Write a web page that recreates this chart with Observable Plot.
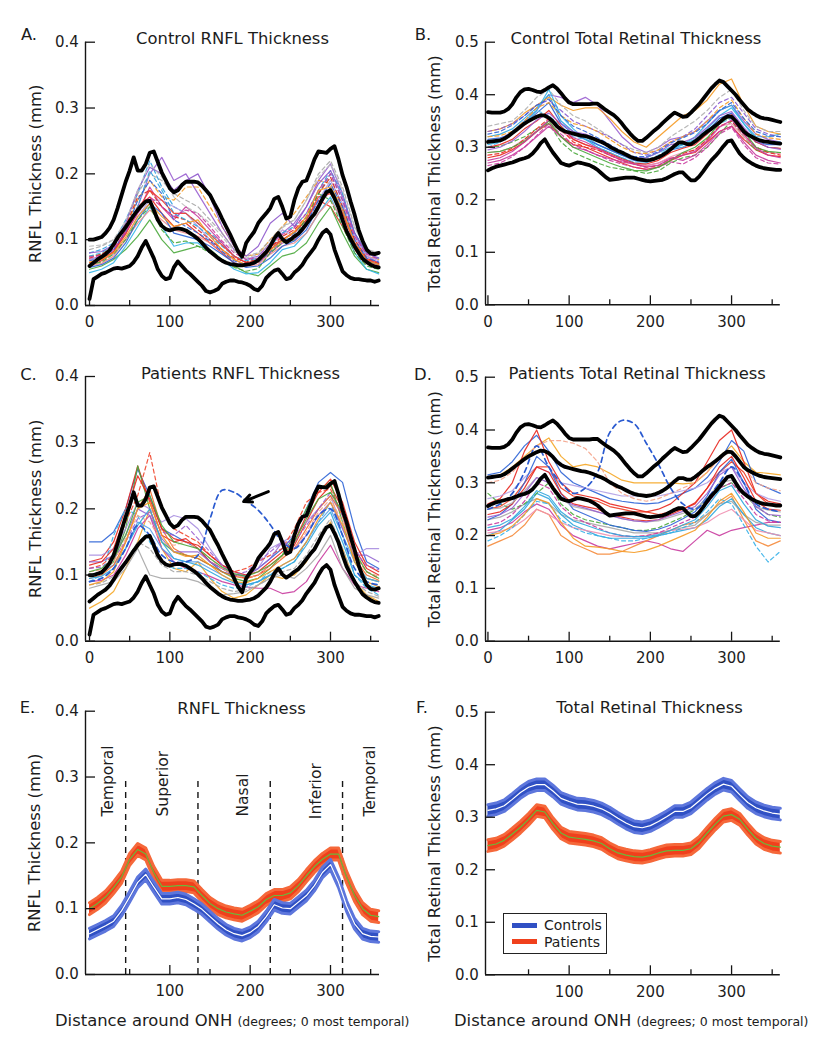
<!DOCTYPE html>
<html><head><meta charset="utf-8">
<script src="https://cdn.jsdelivr.net/npm/d3@7"></script>
<script src="https://cdn.jsdelivr.net/npm/@observablehq/plot@0.6"></script>
<style>
body{margin:0;background:#fff;}
#page{position:relative;width:829px;height:1050px;background:#fff;font-family:"DejaVu Sans",sans-serif;color:#1c1c1c;overflow:hidden}
.panel{position:absolute}
.xtitle{position:absolute;white-space:nowrap;font-size:16.4px;line-height:1}
.xtitle span{font-size:12.5px}
.legend{position:absolute;border:1.5px solid #222;background:#fff;box-sizing:border-box}
.legend .row{position:absolute;left:0;height:16px;display:flex;align-items:center;font-size:14px;white-space:nowrap}
.legend .sw{width:25px;height:5px;margin-left:8px;margin-right:7px}
</style></head><body><div id="page"></div>
<script>
// ---------------- x grids (degrees around ONH) ----------------
const deg5 = [0,5,10,15,20,25,30,35,40,45,50,55,60,65,70,75,80,85,90,95,100,105,110,115,120,125,130,135,140,145,150,155,160,165,170,175,180,185,190,195,200,205,210,215,220,225,230,235,240,245,250,255,260,265,270,275,280,285,290,295,300,305,310,315,320,325,330,335,340,345,350,355,360];
const deg10 = [0,10,20,30,40,50,60,70,80,90,100,110,120,130,140,150,160,170,180,190,200,210,220,230,240,250,260,270,280,290,300,310,320,330,340,350,360];
const deg15 = [0,15,30,45,60,75,90,105,120,135,150,165,180,195,210,225,240,255,270,285,300,315,330,345,360];

// ---------------- control envelopes (mean and 95% limits), 5-degree grid ----------------
const ctrlRnflUpper = [.100,.100,.102,.104,.110,.118,.130,.148,.168,.188,.205,.225,
 .205,.205,.215,.232,.234,.218,.202,.190,.178,.172,.175,.183,
 .188,.188,.188,.187,.182,.175,.168,.156,.145,.132,.120,.108,
 .095,.082,.074,.095,.104,.112,.125,.133,.140,.148,.162,.165,
 .150,.132,.135,.160,.178,.188,.190,.205,.222,.234,.233,.232,
 .238,.242,.222,.198,.180,.158,.138,.115,.098,.085,.079,.078,.080];
const ctrlRnflMean = [.060,.065,.070,.074,.078,.084,.093,.103,.111,.119,.128,.137,
 .145,.152,.158,.159,.145,.130,.121,.116,.114,.116,.117,.116,
 .114,.110,.106,.101,.095,.088,.082,.077,.072,.068,.065,.063,
 .062,.061,.061,.062,.063,.065,.069,.075,.081,.090,.102,.110,
 .101,.096,.100,.105,.109,.116,.124,.132,.139,.150,.162,.172,
 .175,.163,.149,.130,.113,.101,.090,.080,.071,.066,.062,.059,.058];
const ctrlRnflLower = [.010,.040,.044,.048,.050,.053,.056,.057,.056,.058,.060,.066,
 .075,.088,.098,.085,.072,.055,.045,.040,.042,.058,.067,.060,
 .053,.048,.042,.036,.030,.022,.020,.022,.025,.033,.036,.038,
 .038,.036,.035,.033,.030,.025,.023,.030,.042,.048,.053,.055,
 .048,.040,.042,.050,.055,.062,.072,.080,.088,.100,.110,.115,
 .108,.085,.068,.052,.046,.042,.040,.040,.039,.038,.038,.036,.038];
const ctrlTotalUpper = [.367,.366,.366,.366,.368,.373,.382,.395,.405,.410,.411,.409,
 .406,.405,.409,.414,.418,.412,.403,.393,.385,.382,.382,.382,
 .382,.382,.383,.383,.377,.371,.366,.361,.354,.345,.335,.326,
 .318,.312,.312,.318,.325,.332,.338,.346,.353,.360,.366,.362,
 .358,.359,.366,.374,.382,.392,.402,.412,.420,.427,.424,.416,
 .408,.400,.390,.381,.372,.366,.361,.357,.355,.354,.352,.350,.348];
const ctrlTotalMean = [.310,.311,.312,.313,.316,.321,.327,.333,.339,.345,.350,.354,
 .358,.361,.360,.356,.349,.340,.334,.330,.328,.326,.324,.322,
 .321,.319,.316,.313,.310,.306,.301,.297,.293,.290,.286,.282,
 .279,.277,.276,.275,.276,.278,.281,.285,.290,.296,.303,.309,
 .309,.306,.306,.311,.317,.324,.330,.335,.341,.347,.354,.359,
 .358,.350,.340,.330,.324,.320,.316,.313,.311,.310,.309,.308,.307];
const ctrlTotalLower = [.256,.260,.263,.265,.267,.269,.271,.274,.277,.279,.282,.288,
 .297,.308,.315,.302,.290,.280,.270,.267,.265,.268,.271,.270,
 .268,.266,.262,.257,.250,.243,.238,.239,.240,.241,.242,.242,
 .242,.240,.238,.236,.235,.236,.237,.238,.241,.245,.249,.252,
 .252,.244,.237,.237,.244,.254,.265,.275,.283,.292,.302,.311,
 .313,.300,.288,.280,.274,.269,.265,.262,.260,.259,.258,.257,.257];

// ---------------- individual eyes, 15-degree grid ----------------
const ctrlRnflSubjects = [
 [.070,.075,.085,.110,.150,.200,.225,.190,.200,.170,.140,.110,.085,.070,.075,.095,.110,.125,.150,.190,.215,.170,.110,.075,.065],
 [.060,.068,.080,.115,.150,.165,.140,.120,.125,.110,.095,.080,.065,.060,.068,.090,.100,.110,.130,.160,.150,.120,.085,.065,.060],
 [.080,.085,.095,.130,.170,.220,.180,.150,.140,.125,.110,.095,.075,.065,.070,.085,.100,.110,.130,.170,.200,.160,.110,.080,.070],
 [.055,.060,.070,.085,.105,.130,.100,.080,.085,.090,.085,.070,.060,.050,.045,.060,.075,.080,.095,.125,.150,.110,.075,.055,.050],
 [.065,.070,.082,.110,.140,.180,.150,.130,.150,.135,.115,.095,.075,.065,.065,.080,.095,.100,.120,.150,.175,.140,.095,.070,.060],
 [.075,.078,.090,.120,.160,.190,.165,.160,.180,.180,.150,.120,.090,.075,.078,.100,.120,.140,.165,.190,.185,.150,.100,.075,.070],
 [.085,.090,.100,.125,.170,.200,.190,.170,.160,.150,.130,.110,.085,.075,.080,.100,.120,.130,.160,.200,.220,.180,.120,.085,.080],
 [.050,.055,.065,.090,.120,.150,.120,.090,.095,.095,.080,.070,.055,.048,.050,.065,.085,.090,.110,.140,.165,.125,.080,.055,.048],
 [.070,.072,.078,.100,.135,.160,.160,.150,.140,.120,.100,.085,.070,.062,.068,.090,.115,.105,.125,.160,.190,.155,.105,.075,.068],
 [.060,.064,.075,.100,.125,.145,.130,.115,.110,.105,.095,.082,.070,.060,.062,.078,.090,.095,.110,.140,.160,.130,.090,.065,.058],
 [.072,.078,.088,.120,.165,.175,.150,.135,.130,.115,.100,.085,.072,.066,.070,.088,.105,.115,.135,.170,.195,.150,.100,.072,.064],
 [.058,.062,.072,.095,.130,.155,.140,.110,.105,.100,.090,.078,.065,.058,.060,.072,.090,.098,.115,.150,.180,.145,.095,.068,.062],
 [.075,.080,.092,.118,.150,.205,.175,.140,.130,.120,.105,.090,.075,.068,.072,.090,.110,.120,.140,.175,.205,.170,.110,.080,.072],
 [.065,.070,.082,.108,.145,.175,.160,.140,.140,.125,.108,.092,.075,.065,.068,.085,.100,.112,.130,.165,.170,.140,.095,.070,.064],
 [.068,.072,.085,.112,.160,.190,.170,.130,.120,.110,.098,.082,.068,.060,.065,.082,.098,.105,.125,.160,.185,.150,.100,.072,.066],
 [.080,.082,.092,.125,.175,.210,.200,.175,.190,.200,.165,.120,.090,.075,.090,.125,.140,.120,.150,.185,.205,.165,.110,.080,.072],
 [.062,.066,.078,.100,.130,.150,.115,.095,.098,.090,.080,.070,.058,.052,.056,.080,.095,.100,.135,.170,.160,.120,.080,.060,.055],
 [.074,.076,.086,.112,.140,.165,.150,.135,.145,.140,.120,.098,.080,.070,.072,.092,.108,.118,.140,.175,.200,.160,.105,.078,.070],
 [.066,.070,.080,.104,.135,.155,.135,.120,.125,.130,.105,.085,.070,.062,.066,.084,.098,.112,.135,.175,.180,.145,.095,.068,.062],
 [.090,.092,.100,.128,.175,.215,.195,.165,.150,.140,.125,.105,.082,.072,.078,.095,.118,.130,.160,.195,.215,.175,.118,.085,.080]
];
const ctrlRnflColors = ["#9a5fd0","#e8261e","#2b9fe0","#4aa83c","#c93b9e","#f59a23","#a6a6a6","#33b5e8","#b39be0","#f08c8c","#d9281e","#2e64d6","#2fa6dd","#ee3b2a","#2e64d6","#8e58cc","#4aa83c","#c93b9e","#f59a23","#bdbdbd"];
const ctrlRnflDashed = [0,0,1,0,0,1,1,0,0,0,1,0,1,0,1,0,1,1,0,1];

const ctrlTotalSubjects = [
 [.310,.315,.330,.350,.370,.400,.395,.385,.395,.380,.350,.320,.300,.290,.300,.315,.320,.330,.350,.370,.380,.350,.325,.315,.310],
 [.280,.285,.295,.310,.330,.345,.320,.305,.300,.290,.280,.270,.262,.258,.262,.275,.285,.290,.310,.330,.340,.315,.295,.285,.282],
 [.320,.325,.335,.355,.375,.400,.350,.330,.320,.305,.295,.285,.278,.280,.290,.300,.305,.320,.345,.370,.380,.345,.320,.320,.325],
 [.300,.302,.310,.320,.335,.345,.310,.290,.280,.270,.262,.258,.255,.250,.255,.270,.280,.285,.300,.325,.350,.320,.295,.290,.290],
 [.270,.275,.285,.300,.320,.340,.320,.300,.295,.285,.278,.272,.268,.265,.270,.280,.275,.285,.305,.330,.340,.310,.285,.275,.270],
 [.330,.335,.345,.365,.380,.395,.380,.370,.375,.375,.355,.330,.310,.300,.320,.340,.360,.370,.390,.420,.430,.380,.340,.330,.325],
 [.340,.345,.350,.370,.395,.410,.380,.360,.350,.335,.320,.305,.295,.290,.300,.320,.335,.350,.370,.395,.410,.370,.340,.330,.330],
 [.315,.318,.325,.345,.365,.385,.345,.325,.315,.305,.295,.285,.275,.272,.280,.295,.300,.310,.330,.355,.365,.335,.310,.305,.305],
 [.330,.335,.345,.360,.380,.390,.370,.350,.340,.330,.320,.305,.290,.285,.295,.310,.320,.335,.360,.385,.395,.365,.335,.325,.320],
 [.290,.292,.300,.315,.330,.350,.330,.315,.305,.295,.285,.275,.268,.265,.270,.282,.290,.295,.315,.340,.345,.320,.300,.290,.288],
 [.300,.310,.330,.350,.370,.360,.340,.320,.315,.300,.290,.280,.272,.275,.285,.300,.300,.310,.325,.345,.355,.330,.310,.300,.298],
 [.285,.288,.298,.315,.335,.355,.335,.310,.300,.295,.285,.275,.268,.262,.265,.278,.288,.295,.315,.340,.350,.325,.300,.290,.285],
 [.305,.310,.325,.345,.370,.410,.360,.335,.315,.300,.290,.280,.270,.270,.280,.295,.305,.315,.335,.360,.375,.345,.315,.310,.310],
 [.265,.270,.282,.300,.322,.345,.325,.305,.295,.285,.275,.268,.262,.258,.262,.272,.268,.280,.300,.325,.338,.305,.280,.270,.268],
 [.320,.322,.330,.350,.375,.385,.360,.345,.340,.330,.315,.300,.290,.288,.295,.310,.320,.330,.350,.375,.390,.355,.325,.318,.315],
 [.290,.292,.300,.312,.330,.350,.320,.300,.290,.280,.270,.262,.256,.255,.262,.275,.290,.300,.318,.345,.360,.330,.300,.292,.290],
 [.300,.305,.315,.335,.350,.370,.340,.315,.305,.298,.288,.278,.270,.268,.275,.290,.298,.305,.325,.350,.362,.335,.310,.300,.298],
 [.295,.300,.312,.330,.352,.365,.345,.330,.325,.315,.300,.288,.280,.280,.290,.305,.310,.318,.338,.360,.368,.338,.312,.300,.296],
 [.325,.330,.342,.360,.380,.392,.360,.340,.330,.318,.305,.292,.282,.282,.292,.308,.318,.328,.345,.370,.385,.355,.330,.322,.320],
 [.275,.280,.292,.310,.330,.352,.335,.318,.310,.298,.285,.276,.268,.262,.266,.278,.285,.292,.312,.338,.352,.325,.298,.285,.280]
];
const ctrlTotalColors = ["#9a5fd0","#e8261e","#2fa6dd","#4aa83c","#c93b9e","#f59a23","#b0b0b0","#2e64d6","#8a5bd0","#ef8fb0","#5bb8ea","#e8261e","#33b5e8","#c93b9e","#f59a23","#4aa83c","#e8261e","#9a5fd0","#2e64d6","#c93b9e"];
const ctrlTotalDashed = [0,0,0,1,0,0,1,0,1,0,1,1,0,1,1,0,0,0,1,0];

const patRnflSubjects = [
 [.150,.150,.165,.200,.260,.220,.170,.160,.150,.140,.120,.105,.100,.100,.110,.125,.140,.160,.200,.240,.255,.240,.170,.120,.110],
 [.120,.125,.150,.200,.265,.210,.160,.150,.155,.140,.120,.110,.100,.095,.100,.115,.130,.145,.180,.215,.235,.200,.140,.110,.100],
 [.100,.105,.120,.170,.265,.200,.150,.135,.130,.125,.115,.105,.095,.090,.095,.110,.130,.160,.200,.230,.240,.180,.120,.095,.090],
 [.050,.060,.075,.110,.150,.200,.140,.110,.105,.120,.095,.075,.065,.070,.085,.100,.095,.100,.120,.150,.180,.140,.090,.070,.060],
 [.090,.092,.100,.130,.170,.190,.140,.120,.110,.105,.098,.090,.085,.082,.080,.080,.072,.075,.090,.120,.145,.110,.085,.080,.075],
 [.080,.085,.090,.110,.140,.100,.095,.095,.095,.090,.080,.070,.072,.075,.085,.095,.100,.095,.110,.130,.160,.110,.080,.070,.065],
 [.130,.130,.140,.170,.210,.200,.180,.190,.185,.170,.140,.115,.105,.100,.110,.140,.150,.160,.180,.200,.220,.170,.130,.140,.140],
 [.090,.100,.160,.200,.190,.150,.120,.110,.110,.105,.095,.085,.080,.082,.090,.105,.110,.120,.150,.180,.210,.160,.100,.080,.070],
 [.110,.115,.130,.180,.220,.285,.200,.170,.160,.150,.130,.115,.105,.110,.120,.130,.140,.170,.210,.225,.230,.190,.130,.105,.095],
 [.100,.105,.115,.140,.180,.170,.140,.125,.120,.120,.110,.100,.090,.085,.090,.100,.115,.125,.150,.180,.200,.160,.120,.095,.090],
 [.095,.100,.115,.150,.200,.230,.170,.140,.130,.125,.115,.105,.098,.095,.100,.110,.125,.140,.170,.200,.220,.190,.125,.100,.092],
 [.120,.120,.130,.160,.200,.190,.155,.135,.135,.135,.120,.110,.100,.098,.110,.125,.150,.140,.160,.190,.210,.170,.130,.130,.120],
 [.105,.108,.120,.155,.190,.180,.150,.145,.150,.140,.125,.110,.100,.095,.100,.115,.128,.140,.165,.195,.215,.180,.130,.105,.098],
 [.095,.098,.110,.140,.175,.200,.150,.125,.120,.115,.105,.095,.088,.085,.090,.100,.110,.120,.145,.175,.195,.150,.100,.085,.080],
 [.115,.120,.140,.190,.250,.215,.170,.155,.150,.145,.130,.115,.105,.100,.105,.120,.135,.150,.190,.225,.245,.210,.150,.115,.105],
 [.085,.088,.098,.120,.150,.140,.115,.105,.105,.100,.090,.080,.075,.078,.085,.095,.105,.110,.130,.160,.185,.140,.090,.075,.068],
 [.110,.112,.125,.150,.185,.195,.165,.160,.175,.155,.135,.115,.100,.105,.120,.135,.150,.150,.175,.200,.225,.190,.135,.115,.108],
 [.105,.110,.125,.160,.210,.220,.175,.150,.145,.140,.125,.112,.102,.098,.105,.115,.130,.150,.185,.215,.225,.195,.135,.105,.095],
 [.085,.090,.105,.150,.200,.210,.160,.135,.128,.130,.115,.100,.090,.088,.095,.105,.115,.125,.150,.185,.210,.175,.120,.090,.082]
];
const patRnflColors = ["#2e64d6","#e8261e","#4aa83c","#f5a623","#c93b9e","#a6a6a6","#a98ee0","#35b0e8","#f0442a","#5aa0e8","#f26b2a","#9466d2","#f4a38a","#2fa6dd","#e8261e","#a6a6a6","#9a5fd0","#4aa83c","#f59a23"];
const patRnflDashed = [0,0,0,0,0,0,0,1,1,0,0,0,1,0,0,1,1,0,0];
const patRnflOutlier = [.090,.095,.110,.140,.175,.160,.130,.120,.120,.130,.185,.228,.225,.212,.198,.176,.150,.140,.160,.190,.200,.160,.110,.090,.085];

const patTotalSubjects = [
 [.310,.315,.330,.350,.370,.385,.350,.330,.335,.330,.318,.305,.300,.300,.300,.300,.298,.300,.320,.350,.370,.340,.320,.318,.315],
 [.315,.320,.340,.370,.390,.360,.320,.300,.290,.280,.270,.265,.262,.260,.262,.270,.280,.290,.310,.340,.380,.360,.300,.290,.280],
 [.260,.270,.300,.360,.400,.340,.300,.280,.275,.270,.260,.255,.250,.245,.250,.260,.280,.300,.340,.380,.400,.340,.280,.265,.260],
 [.270,.275,.285,.310,.330,.320,.300,.295,.290,.285,.280,.275,.275,.275,.275,.280,.285,.290,.300,.320,.330,.300,.280,.270,.265],
 [.210,.215,.225,.245,.260,.250,.220,.200,.190,.180,.175,.180,.185,.190,.185,.175,.170,.190,.210,.200,.210,.215,.220,.225,.225],
 [.180,.190,.200,.220,.250,.240,.200,.185,.175,.165,.165,.170,.180,.190,.200,.210,.220,.225,.240,.260,.275,.230,.190,.180,.190],
 [.230,.235,.245,.260,.270,.260,.240,.230,.225,.220,.215,.210,.205,.205,.205,.210,.215,.220,.240,.260,.265,.240,.225,.220,.220],
 [.200,.210,.230,.250,.280,.270,.240,.220,.210,.200,.195,.195,.195,.195,.200,.205,.210,.215,.230,.255,.270,.240,.215,.205,.200],
 [.280,.260,.250,.260,.280,.300,.260,.240,.230,.225,.220,.215,.210,.210,.215,.225,.235,.250,.270,.290,.300,.280,.255,.240,.235],
 [.250,.255,.270,.300,.330,.330,.290,.275,.270,.265,.255,.250,.245,.245,.240,.245,.250,.260,.290,.320,.340,.320,.280,.260,.255],
 [.205,.208,.215,.230,.250,.240,.225,.215,.210,.205,.200,.198,.198,.200,.205,.210,.212,.215,.225,.240,.250,.230,.210,.205,.200],
 [.190,.200,.215,.240,.265,.260,.230,.215,.205,.200,.195,.190,.190,.195,.200,.205,.215,.225,.245,.270,.260,.220,.180,.150,.170],
 [.300,.305,.320,.345,.370,.380,.380,.375,.365,.340,.300,.280,.270,.265,.270,.280,.290,.300,.320,.345,.360,.330,.300,.290,.285],
 [.230,.240,.260,.300,.350,.330,.280,.250,.240,.230,.220,.215,.210,.208,.212,.220,.232,.245,.275,.320,.345,.300,.250,.230,.225],
 [.220,.225,.240,.265,.300,.290,.255,.235,.225,.215,.205,.200,.198,.200,.205,.215,.225,.235,.260,.290,.300,.270,.240,.228,.225],
 [.240,.245,.260,.290,.330,.320,.280,.260,.255,.250,.240,.235,.230,.228,.230,.240,.250,.262,.290,.330,.350,.310,.265,.250,.248],
 [.215,.220,.232,.255,.285,.275,.245,.228,.220,.212,.205,.200,.198,.198,.202,.210,.220,.230,.255,.285,.295,.260,.230,.218,.215],
 [.250,.252,.262,.285,.310,.300,.270,.255,.250,.245,.238,.232,.228,.226,.228,.235,.242,.250,.270,.300,.305,.280,.255,.248,.245],
 [.200,.205,.218,.240,.270,.262,.225,.195,.180,.178,.175,.170,.168,.172,.180,.190,.200,.210,.235,.265,.280,.245,.205,.195,.195],
 [.235,.240,.252,.280,.310,.300,.270,.258,.252,.245,.238,.232,.228,.226,.230,.238,.246,.255,.280,.315,.330,.290,.255,.240,.238]
];
const patTotalColors = ["#f5a623","#2e64d6","#e8261e","#b3a0e6","#c93b9e","#f58a3a","#a6a6a6","#2fa6dd","#4aa83c","#ee3b22","#ef8fb0","#35b0e8","#f4a38a","#2e64d6","#c93b9e","#e8261e","#2fa6dd","#b0b0b0","#f59a23","#9a5fd0"];
const patTotalDashed = [0,0,0,0,0,0,0,0,1,0,0,1,1,0,1,0,0,0,0,0];
const patTotalOutlier = [.250,.260,.280,.320,.370,.330,.300,.280,.290,.320,.395,.418,.412,.375,.335,.290,.260,.250,.270,.300,.330,.300,.260,.250,.245];

// arrow pointing at the outlier (degrees, mm): tail then head
const arrowTail = [222.6, 0.226];
const arrowHead = [191.9, 0.211];

// ---------------- group averages with SE (E, F), 10-degree grid ----------------
const avgCtrlRnfl = [.062,.068,.074,.081,.097,.118,.140,.152,.133,.115,.115,.117,.114,.107,.099,.088,.077,.068,.062,.059,.064,.073,.088,.106,.101,.100,.110,.120,.135,.155,.167,.140,.104,.077,.062,.058,.057];
const avgPatRnfl  = [.100,.108,.118,.132,.148,.175,.190,.183,.155,.134,.134,.135,.135,.133,.120,.108,.100,.095,.092,.090,.096,.103,.114,.120,.120,.124,.135,.150,.164,.175,.183,.183,.148,.120,.100,.090,.088];
const avgCtrlTotal = [.313,.316,.322,.334,.347,.357,.362,.362,.350,.336,.330,.325,.324,.321,.316,.308,.298,.289,.282,.280,.284,.292,.301,.311,.311,.318,.331,.344,.355,.363,.359,.343,.328,.318,.312,.308,.306];
const avgPatTotal  = [.246,.249,.256,.268,.281,.296,.313,.310,.288,.270,.262,.260,.258,.255,.250,.240,.232,.228,.225,.224,.227,.232,.236,.237,.237,.240,.252,.270,.287,.302,.305,.296,.277,.260,.250,.245,.243];
const seCtrlRnfl = 0.008, sePatRnfl = 0.009, seCtrlTotal = 0.011, sePatTotal = 0.011;

// ---------------- sectors (E) ----------------
const sectorBounds = [45, 135, 225, 315];
const sectorNames = ["Temporal","Superior","Nasal","Inferior","Temporal"];
const sectorLabelDeg = [23.6, 92, 191, 282, 349.7];
const sectorLabelY = [0.24, 0.24, 0.24, 0.236, 0.24];

// ---------------- ticks ----------------
const rnflTicks = [0, 0.1, 0.2, 0.3, 0.4];
const totalTicks = [0, 0.1, 0.2, 0.3, 0.4, 0.5];
const degMajor = [0, 100, 200, 300];
const degMajorNoZero = [100, 200, 300];
const degMinor = [50, 150, 250, 350];

const legendLabels = ["Controls", "Patients"];
const legendColors = ["#3050c4", "#f0401c"];

// ---------------- helpers ----------------
const INK = "#151515";
function subjectMarks(subjects, colors, dashed) {
  return subjects.map((vals, i) => Plot.line(deg15.map((d, j) => ({deg: d, v: vals[j]})), {
    x: "deg", y: "v", stroke: colors[i], strokeWidth: 1.2, strokeOpacity: 0.9,
    strokeDasharray: dashed[i] ? "4,3" : undefined
  }));
}
function outlierMark(vals) {
  return Plot.line(deg15.map((d, j) => ({deg: d, v: vals[j]})), {
    x: "deg", y: "v", stroke: "#2a5ad0", strokeWidth: 1.7, strokeDasharray: "5,4", curve: "catmull-rom"
  });
}
function envelopeMarks(upper, mean, lower) {
  return [upper, mean, lower].map(arr => Plot.line(deg5.map((d, i) => ({deg: d, v: arr[i]})), {
    x: "deg", y: "v", stroke: "#000", strokeWidth: 3.8, strokeLinejoin: "round"
  }));
}
function bandMarks(mean, se, fill, edge, center) {
  const rows = deg10.map((d, i) => ({deg: d, m: mean[i]}));
  return [
    Plot.areaY(rows, {x: "deg", y1: d => d.m - se, y2: d => d.m + se, fill: fill}),
    Plot.line(rows, {x: "deg", y: d => d.m + se, stroke: edge, strokeWidth: 3}),
    Plot.line(rows, {x: "deg", y: d => d.m - se, stroke: edge, strokeWidth: 3}),
    Plot.line(rows, {x: "deg", y: "m", stroke: center, strokeWidth: 1.2})
  ];
}

function makePanel(cfg) {
  const {w, h, ml, mr, mt, mb, xd, ymax} = cfg;
  const pxPerX = (w - ml - mr) / (xd[1] - xd[0]);
  const pxPerY = (h - mt - mb) / ymax;
  const marks = [
    ...cfg.content,
    Plot.ruleX([xd[0]], {y1: 0, y2: ymax, stroke: INK, strokeWidth: 1.4}),
    Plot.ruleY([0], {x1: xd[0], x2: xd[1], stroke: INK, strokeWidth: 1.4}),
    Plot.ruleX(cfg.xMajor, {x: d => d, y1: 0, y2: 9 / pxPerY, stroke: INK, strokeWidth: 1.3}),
    Plot.ruleX(degMinor, {x: d => d, y1: 0, y2: 5 / pxPerY, stroke: INK, strokeWidth: 1.3}),
    Plot.ruleY(cfg.yTicks, {y: d => d, x1: xd[0], x2: xd[0] + 10 / pxPerX, stroke: INK, strokeWidth: 1.3}),
    Plot.text(cfg.xLabels, {x: d => d, frameAnchor: "bottom", dy: 17, lineAnchor: "middle", textAnchor: "middle", text: d => String(d), fontSize: 15}),
    Plot.text(cfg.yTicks, {y: d => d, frameAnchor: "left", dx: -6.7, textAnchor: "end", lineAnchor: "middle", text: d => d.toFixed(1), fontSize: 15}),
    Plot.text([cfg.yTitle], {frameAnchor: "left", rotate: -90, dx: cfg.yTitleDx, textAnchor: "middle", lineAnchor: "middle", text: d => d, fontSize: 16.4}),
    Plot.text([cfg.title], {frameAnchor: "top", dx: cfg.titleDx, dy: cfg.titleDy, textAnchor: "middle", lineAnchor: "middle", text: d => d, fontSize: 16.4}),
    Plot.text([cfg.letter], {frameAnchor: "top-left", dx: cfg.letterDx, dy: cfg.letterDy, textAnchor: "middle", lineAnchor: "middle", text: d => d, fontSize: 16.4})
  ];
  const svg = Plot.plot({
    width: w, height: h, marginLeft: ml, marginRight: mr, marginTop: mt, marginBottom: mb,
    x: {domain: xd, axis: null},
    y: {domain: [0, ymax], axis: null},
    style: {fontFamily: "'DejaVu Sans', sans-serif", fontSize: "15px", color: "#1c1c1c", background: "transparent", overflow: "visible"},
    marks
  });
  const div = document.createElement("div");
  div.className = "panel";
  div.style.left = cfg.left + "px";
  div.style.top = cfg.top + "px";
  div.style.width = w + "px";
  div.style.height = h + "px";
  div.appendChild(svg);
  document.getElementById("page").appendChild(div);
}

const rnflX = {w: 415, ml: 85, mr: 36, xd: [-5, 361]};
const totX = {w: 414, ml: 70, mr: 49.2, xd: [-3, 360]};

// A
makePanel({...rnflX, left: 0, top: 0, h: 335, mt: 41.7, mb: 30, ymax: 0.4, yTicks: rnflTicks,
  xMajor: degMajor, xLabels: degMajor, letter: "A.", letterDx: -56.5, letterDy: -7.7,
  title: "Control RNFL Thickness", titleDx: 0, titleDy: -3, yTitle: "RNFL Thickness (mm)", yTitleDx: -50,
  content: [...subjectMarks(ctrlRnflSubjects, ctrlRnflColors, ctrlRnflDashed), ...envelopeMarks(ctrlRnflUpper, ctrlRnflMean, ctrlRnflLower)]});
// B
makePanel({...totX, left: 415, top: 0, h: 335, mt: 41.7, mb: 30.7, ymax: 0.5, yTicks: totalTicks,
  xMajor: degMajor, xLabels: degMajor, letter: "B.", letterDx: -62.5, letterDy: -7.7,
  title: "Control Total Retinal Thickness", titleDx: 3, titleDy: -3, yTitle: "Total Retinal Thickness (mm)", yTitleDx: -51,
  content: [...subjectMarks(ctrlTotalSubjects, ctrlTotalColors, ctrlTotalDashed), ...envelopeMarks(ctrlTotalUpper, ctrlTotalMean, ctrlTotalLower)]});
// C
makePanel({...rnflX, left: 0, top: 335, h: 330, mt: 41, mb: 24.3, ymax: 0.4, yTicks: rnflTicks,
  xMajor: degMajor, xLabels: degMajor, letter: "C.", letterDx: -57, letterDy: -2,
  title: "Patients RNFL Thickness", titleDx: 8, titleDy: -2.3, yTitle: "RNFL Thickness (mm)", yTitleDx: -50,
  content: [...subjectMarks(patRnflSubjects, patRnflColors, patRnflDashed), outlierMark(patRnflOutlier),
    ...envelopeMarks(ctrlRnflUpper, ctrlRnflMean, ctrlRnflLower),
    Plot.arrow([{a: arrowTail, b: arrowHead}], {x1: d => d.a[0], y1: d => d.a[1], x2: d => d.b[0], y2: d => d.b[1], stroke: "#000", strokeWidth: 3, headLength: 11, headAngle: 50})]});
// D
makePanel({...totX, left: 415, top: 335, h: 330, mt: 41.7, mb: 24.3, ymax: 0.5, yTicks: totalTicks,
  xMajor: degMajor, xLabels: degMajor, letter: "D.", letterDx: -62.5, letterDy: -2.7,
  title: "Patients Total Retinal Thickness", titleDx: 4.3, titleDy: -3, yTitle: "Total Retinal Thickness (mm)", yTitleDx: -51,
  content: [...subjectMarks(patTotalSubjects, patTotalColors, patTotalDashed), outlierMark(patTotalOutlier),
    ...envelopeMarks(ctrlTotalUpper, ctrlTotalMean, ctrlTotalLower)]});
// E
makePanel({...rnflX, left: 0, top: 665, h: 385, mt: 45.7, mb: 76, ymax: 0.4, yTicks: rnflTicks,
  xMajor: degMajorNoZero, xLabels: degMajorNoZero, letter: "E.", letterDx: -58, letterDy: -3.2,
  title: "RNFL Thickness", titleDx: 9, titleDy: -2.4, yTitle: "RNFL Thickness (mm)", yTitleDx: -51,
  content: [
    Plot.ruleX(sectorBounds, {x: d => d, y1: 0, y2: 0.3, stroke: INK, strokeWidth: 1.4, strokeDasharray: "6,5"}),
    Plot.text(sectorNames, {x: (d, i) => sectorLabelDeg[i], y: (d, i) => sectorLabelY[i], rotate: -90, textAnchor: "start", lineAnchor: "middle", text: d => d, fontSize: 15.5}),
    ...bandMarks(avgPatRnfl, sePatRnfl, "#f0401c", "#f5683a", "#6cb83a"),
    ...bandMarks(avgCtrlRnfl, seCtrlRnfl, "#3050c4", "#5d76dc", "#ffffff")
  ]});
// F
makePanel({...totX, left: 415, top: 665, h: 385, mt: 46.7, mb: 75.7, ymax: 0.5, yTicks: totalTicks,
  xMajor: degMajorNoZero, xLabels: degMajorNoZero, letter: "F.", letterDx: -63.5, letterDy: -4.2,
  title: "Total Retinal Thickness", titleDx: 16.6, titleDy: -4.2, yTitle: "Total Retinal Thickness (mm)", yTitleDx: -51,
  content: [
    ...bandMarks(avgPatTotal, sePatTotal, "#f0401c", "#f5683a", "#6cb83a"),
    ...bandMarks(avgCtrlTotal, seCtrlTotal, "#3050c4", "#5d76dc", "#ffffff")
  ]});

// x-axis titles under E and F
const page = document.getElementById("page");
[[55, 1013], [454, 1013]].forEach(([l, t]) => {
  const d = document.createElement("div");
  d.className = "xtitle";
  d.style.left = l + "px"; d.style.top = t + "px";
  d.innerHTML = "Distance around ONH <span>(degrees; 0 most temporal)</span>";
  page.appendChild(d);
});

// legend in F
const lg = document.createElement("div");
lg.className = "legend";
Object.assign(lg.style, {left: "503px", top: "913px", width: "104px", height: "41px"});
legendLabels.forEach((lab, i) => {
  const r = document.createElement("div");
  r.className = "row";
  r.style.top = (3 + i * 16.5) + "px";
  const sw = document.createElement("div");
  sw.className = "sw";
  sw.style.background = legendColors[i];
  r.appendChild(sw);
  const tx = document.createElement("span");
  tx.textContent = lab;
  r.appendChild(tx);
  lg.appendChild(r);
});
page.appendChild(lg);
</script></body></html>
